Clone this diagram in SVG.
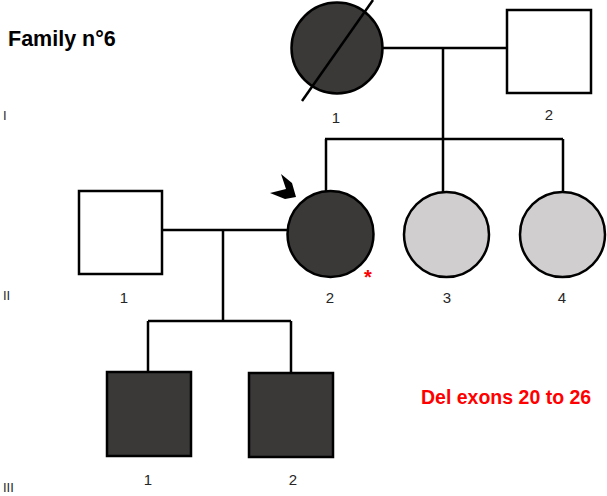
<svg xmlns="http://www.w3.org/2000/svg" width="607" height="496" viewBox="0 0 607 496">
  <style>
    .line { stroke: #000; stroke-width: 2.5; fill: none; }
    .shape { stroke: #000; stroke-width: 2.5; }
    .affected { fill: #3a3938; }
    .unaffected { fill: #ffffff; }
    .carrier { fill: #d0cecf; }
    .num { font-family: "Liberation Sans", Arial, sans-serif; font-size: 15px; fill: #262626; text-anchor: middle; }
    .gen { font-family: "Liberation Sans", Arial, sans-serif; font-size: 13px; fill: #262626; }
    .title { font-family: "Liberation Sans", Arial, sans-serif; font-size: 21.5px; font-weight: bold; fill: #000; }
    .note { font-family: "Liberation Sans", Arial, sans-serif; font-size: 19.5px; font-weight: bold; fill: #ff0000; }
  </style>

  <rect width="607" height="496" fill="#ffffff"/>

  <text class="title" x="8" y="46">Family n°6</text>
  <text class="note" x="421" y="404">Del exons 20 to 26</text>

  <!-- generation numerals -->
  <text class="gen" x="3" y="120">I</text>
  <text class="gen" x="3" y="300">II</text>
  <text class="gen" x="3" y="492">III</text>

  <!-- connectors -->
  <g id="connectors">
    <!-- I-1 x I-2 -->
    <line class="line" x1="382" y1="48" x2="507" y2="48"/>
    <line class="line" x1="443" y1="48" x2="443" y2="139"/>
    <line class="line" x1="325" y1="139" x2="563" y2="139"/>
    <line class="line" x1="326" y1="139" x2="326" y2="191"/>
    <line class="line" x1="443" y1="139" x2="443" y2="192"/>
    <line class="line" x1="563" y1="139" x2="563" y2="192"/>
    <!-- II-1 x II-2 -->
    <line class="line" x1="162" y1="230" x2="288" y2="230"/>
    <line class="line" x1="223" y1="230" x2="223" y2="321"/>
    <line class="line" x1="148" y1="321" x2="291" y2="321"/>
    <line class="line" x1="148" y1="321" x2="148" y2="372"/>
    <line class="line" x1="291" y1="321" x2="291" y2="373"/>
  </g>

  <!-- generation I -->
  <g id="I-1">
    <circle class="shape affected" cx="337" cy="48" r="45.5"/>
    <line class="line" x1="302" y1="101" x2="373" y2="0"/>
    <text class="num" x="336" y="123">1</text>
  </g>
  <g id="I-2">
    <rect class="shape unaffected" x="507" y="10" width="84" height="83"/>
    <text class="num" x="549" y="120">2</text>
  </g>

  <!-- generation II -->
  <g id="II-1">
    <rect class="shape unaffected" x="79" y="191" width="83" height="83"/>
    <text class="num" x="124" y="303">1</text>
  </g>
  <g id="II-2">
    <polygon fill="#000" points="281,174 292,183 296,197 285,199 270,193 286,189"/>
    <circle class="shape affected" cx="330.5" cy="234" r="43"/>
    <text x="368" y="284" font-family="Liberation Sans, Arial, sans-serif" font-size="20" font-weight="bold" fill="#ff0000" text-anchor="middle">*</text>
    <text class="num" x="330" y="303">2</text>
  </g>
  <g id="II-3">
    <circle class="shape carrier" cx="446.5" cy="234.5" r="42.5"/>
    <text class="num" x="447" y="303">3</text>
  </g>
  <g id="II-4">
    <circle class="shape carrier" cx="562.5" cy="234.5" r="42.5"/>
    <text class="num" x="562" y="303">4</text>
  </g>

  <!-- generation III -->
  <g id="III-1">
    <rect class="shape affected" x="107" y="372" width="84" height="84"/>
    <text class="num" x="148" y="485">1</text>
  </g>
  <g id="III-2">
    <rect class="shape affected" x="249" y="373" width="84" height="84"/>
    <text class="num" x="293" y="485">2</text>
  </g>
</svg>
